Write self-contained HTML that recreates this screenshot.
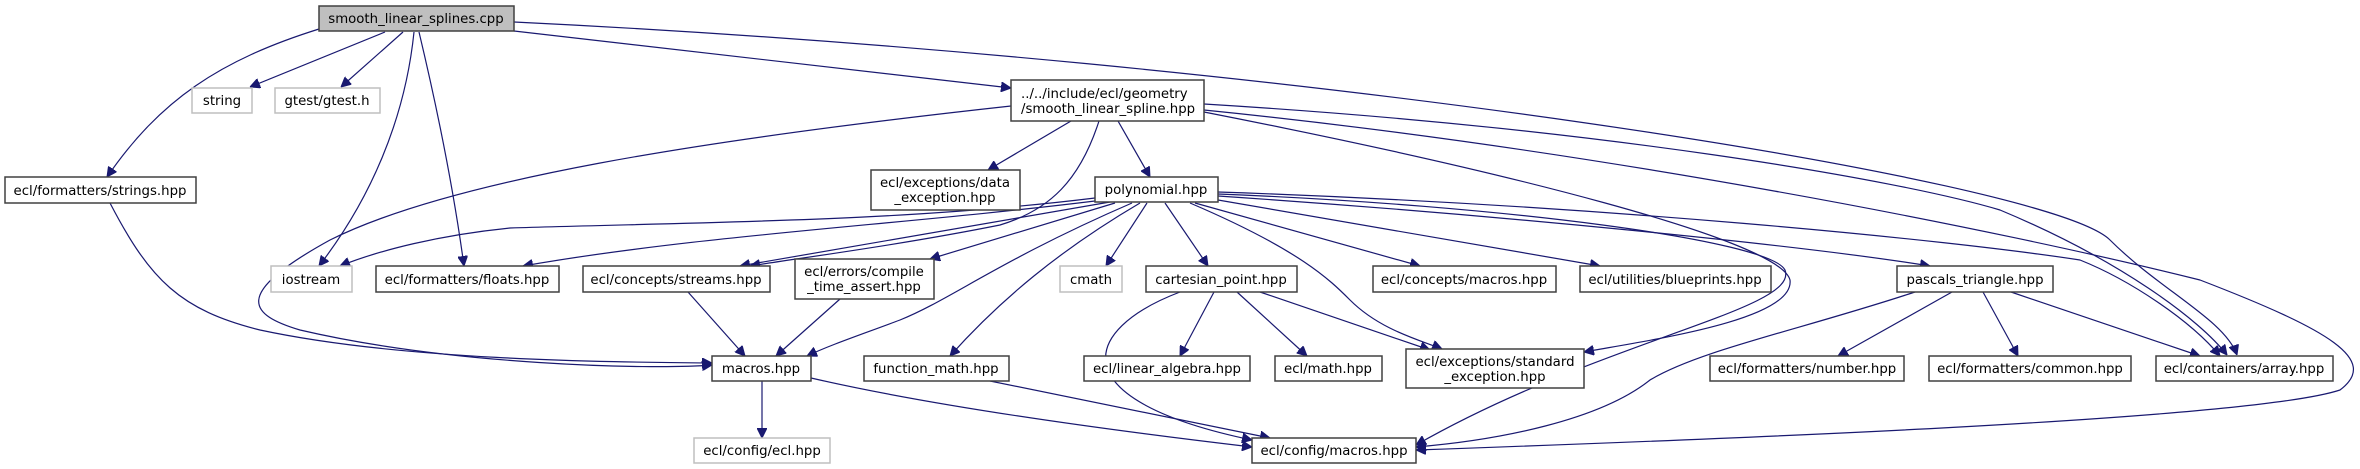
<!DOCTYPE html>
<html><head><meta charset="utf-8"><style>
html,body{margin:0;padding:0;background:#fff;}
svg{display:block;}
text{font-family:"DejaVu Sans","Liberation Sans",sans-serif;font-size:13.3px;fill:#000;}
.n{fill:#fff;stroke:#404040;stroke-width:1.5;}
.g{fill:#fff;stroke:#bfbfbf;stroke-width:1.5;}
.e{fill:none;stroke:#191970;stroke-width:1.2;}
</style></head><body>
<svg width="2360" height="469" viewBox="0 0 2360 469" xmlns="http://www.w3.org/2000/svg">
<defs><marker id="a" viewBox="0 0 10 10" refX="10" refY="5" markerWidth="10" markerHeight="10" markerUnits="userSpaceOnUse" orient="auto"><path d="M0,0 L10,5 L0,10 z" fill="#191970" stroke="#191970"/></marker></defs>
<g marker-end="url(#a)">
<path class="e" d="M319,29 C220,60 160,100 107,177"/>
<path class="e" d="M385,32 L250,87"/>
<path class="e" d="M403,32 L341,87"/>
<path class="e" d="M414,32 C405,120 370,200 319,266"/>
<path class="e" d="M419,32 C440,120 455,200 464,266"/>
<path class="e" d="M514,31 L1011,88"/>
<path class="e" d="M514,22 C1300,60 2050,180 2110,240 C2160,290 2225,320 2237,355"/>
<path class="e" d="M1204,104 C1600,128 1900,180 2000,210 C2120,260 2200,320 2227,355"/>
<path class="e" d="M1204,110 C1600,150 2000,230 2200,280 C2330,330 2380,360 2340,390 C2250,420 1700,440 1416,450"/>
<path class="e" d="M1204,112 C1500,170 1780,240 1790,280 C1795,320 1650,340 1584,352"/>
<path class="e" d="M1118,121 L1150,177"/>
<path class="e" d="M1071,121 L988,170"/>
<path class="e" d="M1099,121 C1080,180 1050,210 1000,225 C900,245 800,258 750,266"/>
<path class="e" d="M1011,106 C700,140 450,180 330,240 C230,295 250,315 300,330 C450,365 650,370 712,365"/>
<path class="e" d="M110,203 C150,280 180,310 260,330 C400,360 600,362 712,363"/>
<path class="e" d="M688,292 L745,356"/>
<path class="e" d="M840,299 L776,356"/>
<path class="e" d="M1132,203 C1000,260 950,300 900,320 C860,335 830,345 807,356"/>
<path class="e" d="M762,381 L762,438"/>
<path class="e" d="M811,378 C950,410 1150,435 1252,447"/>
<path class="e" d="M990,381 L1270,438"/>
<path class="e" d="M1095,198 C900,222 700,222 510,228 C440,235 380,250 340,266"/>
<path class="e" d="M1095,201 C900,225 700,235 523,266"/>
<path class="e" d="M1110,202 L740,266"/>
<path class="e" d="M1115,203 L930,259"/>
<path class="e" d="M1140,203 C1060,250 1000,300 950,356"/>
<path class="e" d="M1147,203 L1106,266"/>
<path class="e" d="M1165,203 L1208,266"/>
<path class="e" d="M1190,203 C1300,250 1330,280 1350,300 C1380,330 1420,340 1442,349"/>
<path class="e" d="M1195,203 L1420,266"/>
<path class="e" d="M1218,200 L1600,266"/>
<path class="e" d="M1218,196 C1500,215 1800,245 1930,266"/>
<path class="e" d="M1218,192 C1600,205 1950,240 2080,260 C2130,280 2190,320 2220,356"/>
<path class="e" d="M1218,194 C1500,205 1770,240 1785,270 C1800,310 1600,340 1416,445"/>
<path class="e" d="M1915,292 C1800,330 1700,350 1650,380 C1600,420 1500,440 1416,447"/>
<path class="e" d="M1952,292 L1838,356"/>
<path class="e" d="M1983,292 L2018,356"/>
<path class="e" d="M2011,292 L2200,356"/>
<path class="e" d="M1180,292 C1080,330 1060,400 1252,440"/>
<path class="e" d="M1214,292 L1180,356"/>
<path class="e" d="M1237,292 L1307,356"/>
<path class="e" d="M1260,292 L1430,350"/>
</g>
<rect x="319" y="6" width="195" height="25" fill="#bfbfbf" stroke="#404040" stroke-width="1.5"/><text x="416" y="23" text-anchor="middle">smooth_linear_splines.cpp</text>
<rect class="g" x="192" y="88" width="60" height="25"/><text x="222" y="105" text-anchor="middle">string</text>
<rect class="g" x="275" y="88" width="105" height="25"/><text x="327" y="105" text-anchor="middle">gtest/gtest.h</text>
<rect class="n" x="5" y="177" width="191" height="26"/><text x="100" y="195" text-anchor="middle">ecl/formatters/strings.hpp</text>
<rect class="g" x="271" y="266" width="81" height="26"/><text x="311" y="284" text-anchor="middle">iostream</text>
<rect class="n" x="376" y="266" width="183" height="26"/><text x="467" y="284" text-anchor="middle">ecl/formatters/floats.hpp</text>
<rect class="n" x="583" y="266" width="187" height="26"/><text x="676" y="284" text-anchor="middle">ecl/concepts/streams.hpp</text>
<rect class="n" x="712" y="356" width="99" height="25"/><text x="761" y="373" text-anchor="middle">macros.hpp</text>
<rect class="g" x="694" y="438" width="136" height="25"/><text x="762" y="455" text-anchor="middle">ecl/config/ecl.hpp</text>
<rect class="n" x="1011" y="80" width="193" height="41"/><text x="1021" y="98">../../include/ecl/geometry</text><text x="1021" y="113">/smooth_linear_spline.hpp</text>
<rect class="n" x="871" y="170" width="149" height="40"/><text x="945" y="187" text-anchor="middle">ecl/exceptions/data</text><text x="945" y="202" text-anchor="middle">_exception.hpp</text>
<rect class="n" x="1095" y="177" width="123" height="25"/><text x="1156" y="194" text-anchor="middle">polynomial.hpp</text>
<rect class="n" x="795" y="259" width="139" height="40"/><text x="864" y="276" text-anchor="middle">ecl/errors/compile</text><text x="864" y="291" text-anchor="middle">_time_assert.hpp</text>
<rect class="g" x="1060" y="266" width="62" height="26"/><text x="1091" y="284" text-anchor="middle">cmath</text>
<rect class="n" x="1146" y="266" width="151" height="26"/><text x="1221" y="284" text-anchor="middle">cartesian_point.hpp</text>
<rect class="n" x="1373" y="266" width="183" height="26"/><text x="1464" y="284" text-anchor="middle">ecl/concepts/macros.hpp</text>
<rect class="n" x="1580" y="266" width="191" height="26"/><text x="1675" y="284" text-anchor="middle">ecl/utilities/blueprints.hpp</text>
<rect class="n" x="864" y="356" width="145" height="25"/><text x="936" y="373" text-anchor="middle">function_math.hpp</text>
<rect class="n" x="1084" y="356" width="166" height="25"/><text x="1167" y="373" text-anchor="middle">ecl/linear_algebra.hpp</text>
<rect class="n" x="1275" y="356" width="107" height="25"/><text x="1328" y="373" text-anchor="middle">ecl/math.hpp</text>
<rect class="n" x="1406" y="349" width="178" height="39"/><text x="1495" y="366" text-anchor="middle">ecl/exceptions/standard</text><text x="1495" y="381" text-anchor="middle">_exception.hpp</text>
<rect class="n" x="1252" y="438" width="164" height="25"/><text x="1334" y="455" text-anchor="middle">ecl/config/macros.hpp</text>
<rect class="n" x="1897" y="266" width="156" height="26"/><text x="1975" y="284" text-anchor="middle">pascals_triangle.hpp</text>
<rect class="n" x="1710" y="356" width="194" height="25"/><text x="1807" y="373" text-anchor="middle">ecl/formatters/number.hpp</text>
<rect class="n" x="1929" y="356" width="202" height="25"/><text x="2030" y="373" text-anchor="middle">ecl/formatters/common.hpp</text>
<rect class="n" x="2156" y="356" width="177" height="25"/><text x="2244" y="373" text-anchor="middle">ecl/containers/array.hpp</text>
</svg>
</body></html>
